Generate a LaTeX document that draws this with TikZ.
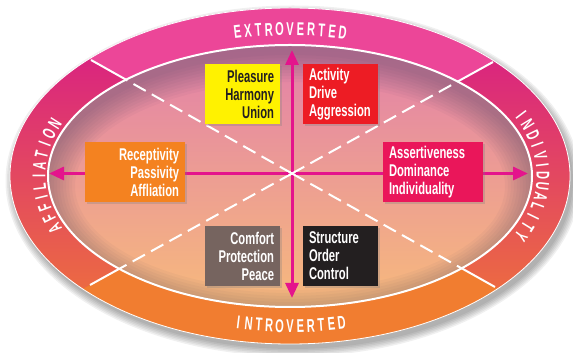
\documentclass[tikz,border=0pt]{standalone}
\usepackage{fontspec}
\setmainfont{Liberation Sans}
\newfontfamily\boxfont[FakeStretch=0.66]{Liberation Sans}
\newfontfamily\bandfont[FakeStretch=0.6]{Liberation Sans}
\usetikzlibrary{arrows.meta,shadows,calc}
\definecolor{arrowmag}{RGB}{228,20,140}
\definecolor{topband}{RGB}{236,70,152}
\definecolor{botband}{RGB}{241,125,48}
\definecolor{sidetop}{RGB}{214,22,140}
\definecolor{sidemid}{RGB}{232,75,118}
\definecolor{sidebot}{RGB}{240,122,52}
\definecolor{intop}{RGB}{226,128,170}
\definecolor{inmid}{RGB}{236,142,160}
\definecolor{inbot}{RGB}{247,186,124}
\definecolor{shadowc}{RGB}{70,65,95}
\definecolor{cyellow}{RGB}{255,242,0}
\definecolor{cred}{RGB}{237,28,36}
\definecolor{corange}{RGB}{244,130,32}
\definecolor{ccrimson}{RGB}{234,22,90}
\definecolor{cbrown}{RGB}{118,100,95}
\definecolor{cblack}{RGB}{35,31,32}
\definecolor{ctext}{RGB}{35,31,32}
\begin{document}
\begin{tikzpicture}[x=1pt,y=1pt,
  box/.style={rectangle, minimum height=60pt, inner xsep=6pt, inner ysep=0pt,
    font=\boxfont\bfseries\fontsize{17}{18}\selectfont,
    drop shadow={opacity=0.3,shadow xshift=2pt,shadow yshift=-2.5pt}},
  narrowbox/.style={box, text width=63pt, minimum width=75pt},
  widebox/.style={box, text width=88pt, minimum width=100pt},
  axis/.style={draw=arrowmag, line width=3pt, -{Triangle[length=15pt,width=13pt]}},
  sepline/.style={draw=white, line width=2pt},
  diagline/.style={draw=white, line width=2pt, dash pattern=on 14pt off 7pt},
  bandletter/.style={text=white, inner sep=0pt, font=\bandfont\bfseries\fontsize{18.5}{18.5}\selectfont}
]
\useasboundingbox (0,0) rectangle (573,353);
\coordinate (C) at (290,177);
\coordinate (X) at (292,179.5);
\coordinate (P1) at (91,293);
\coordinate (P2) at (493,291);
\coordinate (P3) at (90,68);
\coordinate (P4) at (495,66);
\coordinate (ttop) at (292,303);
\coordinate (tbot) at (292,55);
\coordinate (tleft) at (49,179.5);
\coordinate (tright) at (528,179.5);

% outer drop shadow
\foreach \k in {0,...,5}
  \fill[black, opacity=0.06] (293,172) ellipse [x radius={280+1.5*\k}, y radius={168+1.5*\k}];

% outer ring
\shade[top color=sidetop, middle color=sidemid, bottom color=sidebot]
  (C) ellipse [x radius=280, y radius=168];
\begin{scope}
  \clip (X) -- ($(X)!1.5!(P1)$) -- (-20,400) -- (620,400) -- ($(X)!1.5!(P2)$) -- cycle;
  \fill[topband] (C) ellipse [x radius=280, y radius=168];
\end{scope}
\begin{scope}
  \clip (X) -- ($(X)!1.5!(P3)$) -- (-20,-50) -- (620,-50) -- ($(X)!1.5!(P4)$) -- cycle;
  \fill[botband] (C) ellipse [x radius=280, y radius=168];
\end{scope}
\draw[sepline] (P1) -- (P4);
\draw[sepline] (P2) -- (P3);
\draw[white, line width=0.8pt] (C) ellipse [x radius=280, y radius=168];

% inner ellipse
\shade[top color=intop, middle color=inmid, bottom color=inbot]
  (C) ellipse [x radius=242, y radius=131];
\begin{scope}
  \clip (C) ellipse [x radius=242, y radius=131];
  \foreach \k in {0,...,9}
    \fill[shadowc, opacity=0.045, even odd rule] (0,0) rectangle (573,353)
      (290,167) ellipse [x radius={242-3*\k}, y radius={131-3*\k}];
  \draw[diagline] (X) -- (P1);
  \draw[diagline] (X) -- (P2);
  \draw[diagline] (X) -- (P3);
  \draw[diagline] (X) -- (P4);
\end{scope}
\draw[white, line width=2pt] (C) ellipse [x radius=242, y radius=131];

% axes
\draw[axis] (X) -- (ttop);
\draw[axis] (X) -- (tbot);
\draw[axis] (X) -- (tleft);
\draw[axis] (X) -- (tright);
\foreach \p in {P1,P2,P3,P4}
  \draw[white, line width=2pt] (X) -- ($(X)!4pt!(\p)$);

% band labels (letters placed along the band)
\foreach \ch [count=\i] in {E,X,T,R,O,V,E,R,T,E,D} {
  \pgfmathsetmacro\th{90+(6-\i)*2.4}
  \pgfmathsetmacro\rot{atan2(-148*cos(\th),253*sin(\th))}
  \node[bandletter, rotate=\rot] (ext\i) at ($(C)+(\th:253 and 147)$) {\ch};
}
\foreach \ch [count=\i] in {I,N,T,R,O,V,E,R,T,E,D} {
  \pgfmathsetmacro\th{270+(\i-6)*2.35}
  \pgfmathsetmacro\rot{atan2(149*cos(\th),-253*sin(\th))}
  \node[bandletter, rotate=\rot] (int\i) at ($(C)+(\th:253 and 150)$) {\ch};
}
\foreach \ch [count=\i] in {A,F,F,I,L,I,A,T,I,O,N} {
  \pgfmathsetmacro\th{180+(6-\i)*4.1}
  \pgfmathsetmacro\rot{atan2(-149*cos(\th),253*sin(\th))}
  \node[bandletter, rotate=\rot] (aff\i) at ($(C)+(\th:251 and 149)$) {\ch};
}
\foreach \ch [count=\i] in {I,N,D,I,V,I,D,U,A,L,I,T,Y} {
  \pgfmathsetmacro\th{(7-\i)*4.0}
  \pgfmathsetmacro\rot{atan2(-149*cos(\th),253*sin(\th))}
  \node[bandletter, rotate=\rot] (ind\i) at ($(C)+(\th:253 and 149)$) {\ch};
}

% boxes
\node[narrowbox, fill=cyellow, text=ctext, align=right] (pleasure) at (242.5,259) {Pleasure\\Harmony\\Union};
\node[narrowbox, fill=cred, text=white, align=left] (activity) at (340.5,259) {Activity\\Drive\\Aggression};
\node[widebox, fill=corange, text=white, align=right] (recept) at (135,181) {Receptivity\\Passivity\\Affliation};
\node[widebox, fill=ccrimson, text=white, align=left] (assert) at (433,181) {Assertiveness\\Dominance\\Individuality};
\node[narrowbox, fill=cbrown, text=white, align=right] (comfort) at (242.5,97) {Comfort\\Protection\\Peace};
\node[narrowbox, fill=cblack, text=white, align=left] (structure) at (340.5,97) {Structure\\Order\\Control};
\end{tikzpicture}
\end{document}
